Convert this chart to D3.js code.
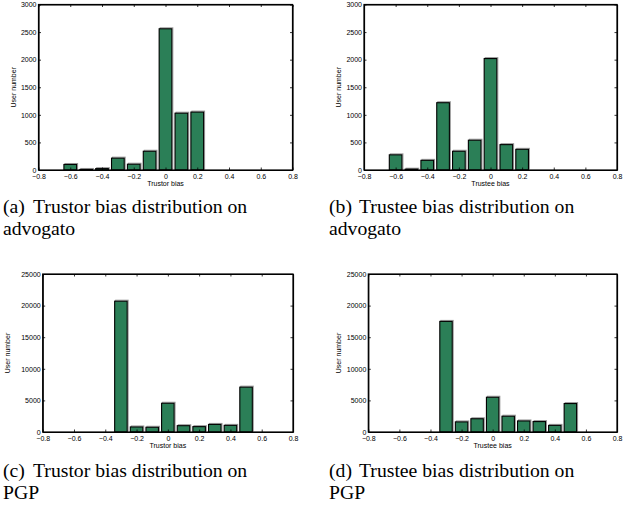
<!DOCTYPE html>
<html>
<head>
<meta charset="utf-8">
<script src="https://cdn.jsdelivr.net/npm/d3@7"></script>
<style>
  html, body { margin: 0; padding: 0; background: #fff; }
  svg { display: block; }
</style>
</head>
<body>
<svg id="chart" width="623" height="508"></svg>
<script>
// ---- data ----
const bins = [-0.7, -0.6, -0.5, -0.4, -0.3, -0.2, -0.1, 0, 0.1, 0.2, 0.3, 0.4, 0.5, 0.6, 0.7];
const trustorAdvogato = [0, 100, 10, 25, 215, 105, 340, 2560, 1030, 1050, 0, 0, 0, 0, 0];
const trusteeAdvogato = [0, 275, 15, 175, 1220, 340, 540, 2020, 460, 375, 0, 0, 0, 0, 0];
const trustorPGP = [0, 0, 0, 0, 20700, 800, 750, 4550, 1000, 850, 1200, 1050, 7100, 0, 0];
const trusteePGP = [0, 0, 0, 0, 17500, 1600, 2100, 5500, 2500, 1750, 1650, 1050, 4500, 0, 0];
const xTicks = [-0.8, -0.6, -0.4, -0.2, 0, 0.2, 0.4, 0.6, 0.8];
const yTicksAdvogato = [0, 500, 1000, 1500, 2000, 2500, 3000];
const yTicksPGP = [0, 5000, 10000, 15000, 20000, 25000];
const xLabels = ["Trustor bias", "Trustee bias", "Trustor bias", "Trustee bias"];
const yLabel = "User number";
const captionTags = ["(a)", "(b)", "(c)", "(d)"];
const captionLine1 = ["Trustor bias distribution on", "Trustee bias distribution on", "Trustor bias distribution on", "Trustee bias distribution on"];
const captionLine2 = ["advogato", "advogato", "PGP", "PGP"];

const svg = d3.select("#chart");
const barFill = "#2b7f57";

const panels = [
  { values: trustorAdvogato, yTicks: yTicksAdvogato, yMax: 3000, x0: 38.5, x1: 292.5, y0: 4.5, y1: 170, ylx: 14, capX: 3, capY: 213 },
  { values: trusteeAdvogato, yTicks: yTicksAdvogato, yMax: 3000, x0: 364, x1: 617, y0: 4.5, y1: 170, ylx: 339, capX: 329, capY: 213 },
  { values: trustorPGP, yTicks: yTicksPGP, yMax: 25000, x0: 42.7, x1: 293, y0: 274, y1: 432, ylx: 8, capX: 3, capY: 477 },
  { values: trusteePGP, yTicks: yTicksPGP, yMax: 25000, x0: 368.3, x1: 617, y0: 274, y1: 432, ylx: 339, capX: 329, capY: 477 }
];

const fmtX = v => Math.abs(v) < 1e-9 ? "0" : d3.format(".1f")(v);
const fmtY = d3.format("d");

panels.forEach((p, i) => {
  const x = d3.scaleLinear().domain([-0.8, 0.8]).range([p.x0, p.x1]);
  const y = d3.scaleLinear().domain([0, p.yMax]).range([p.y1, p.y0]);
  const g = svg.append("g");
  const bw = x(0.08) - x(0);

  // shadow outlines
  g.selectAll("rect.shadow").data(bins).join("rect")
    .attr("class", "shadow")
    .attr("x", (d) => x(d) - bw / 2 + 1)
    .attr("y", (d, j) => y(p.values[j]) - 1)
    .attr("width", bw)
    .attr("height", (d, j) => Math.max(0, y(0) - y(p.values[j])))
    .attr("fill", "none")
    .attr("stroke", "#9a9a9a")
    .attr("stroke-width", 1);

  g.selectAll("rect.bar").data(bins).join("rect")
    .attr("class", "bar")
    .attr("x", (d) => x(d) - bw / 2)
    .attr("y", (d, j) => y(p.values[j]))
    .attr("width", bw)
    .attr("height", (d, j) => Math.max(0, y(0) - y(p.values[j])))
    .attr("fill", barFill)
    .attr("stroke", "#000")
    .attr("stroke-width", 1.1);

  const tickFont = g => g.selectAll("text")
    .attr("font-family", "Liberation Sans, Arial, sans-serif")
    .attr("font-size", "7px")
    .attr("fill", "#000");

  // bottom axis
  const ax = g.append("g").attr("transform", `translate(0,${p.y1})`)
    .call(d3.axisBottom(x).tickValues(xTicks).tickFormat(fmtX).tickSize(-2.5).tickSizeOuter(0).tickPadding(4.5));
  ax.call(tickFont);
  // top ticks
  g.append("g").attr("transform", `translate(0,${p.y0})`)
    .call(d3.axisTop(x).tickValues(xTicks).tickFormat("").tickSize(-2.5).tickSizeOuter(0));
  // left axis
  const ay = g.append("g").attr("transform", `translate(${p.x0},0)`)
    .call(d3.axisLeft(y).tickValues(p.yTicks).tickFormat(fmtY).tickSize(-2.5).tickSizeOuter(0).tickPadding(2));
  ay.call(tickFont);
  // right ticks
  g.append("g").attr("transform", `translate(${p.x1},0)`)
    .call(d3.axisRight(y).tickValues(p.yTicks).tickFormat("").tickSize(-2.5).tickSizeOuter(0));

  g.selectAll(".domain").attr("stroke", "#000").attr("stroke-width", 1.2);
  g.selectAll(".tick line").attr("stroke", "#000").attr("stroke-width", 0.8);

  // box
  g.append("rect")
    .attr("x", p.x0).attr("y", p.y0)
    .attr("width", p.x1 - p.x0).attr("height", p.y1 - p.y0)
    .attr("fill", "none").attr("stroke", "#000").attr("stroke-width", 1.2);

  // axis labels
  g.append("text")
    .attr("x", (p.x0 + p.x1) / 2).attr("y", p.y1 + 15.5)
    .attr("text-anchor", "middle")
    .attr("font-family", "Liberation Sans, Arial, sans-serif")
    .attr("font-size", "7px")
    .text(xLabels[i]);
  g.append("text")
    .attr("transform", `translate(${p.ylx},${(p.y0 + p.y1) / 2}) rotate(-90)`)
    .attr("text-anchor", "middle")
    .attr("dy", "0.35em")
    .attr("font-family", "Liberation Sans, Arial, sans-serif")
    .attr("font-size", "7px")
    .text(yLabel);

  // caption
  const cap = g.append("text")
    .attr("font-family", "Liberation Serif, Times New Roman, serif")
    .attr("font-size", "19.7px")
    .attr("fill", "#000");
  cap.append("tspan").attr("x", p.capX).attr("y", p.capY).text(captionTags[i]);
  cap.append("tspan").attr("x", p.capX + 30).attr("y", p.capY).text(captionLine1[i]);
  g.append("text")
    .attr("font-family", "Liberation Serif, Times New Roman, serif")
    .attr("font-size", "19.7px")
    .attr("x", p.capX).attr("y", p.capY + 21.5)
    .text(captionLine2[i]);
});
</script>
</body>
</html>
